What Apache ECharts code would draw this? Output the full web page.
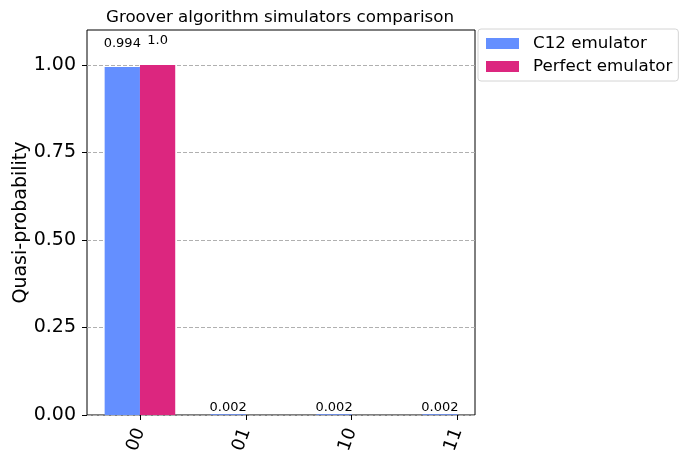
<!DOCTYPE html>
<html>
<head>
<meta charset="utf-8">
<script src="https://cdn.jsdelivr.net/npm/echarts@6/dist/echarts.min.js"></script>
<style>
  html, body { margin: 0; padding: 0; background: #fff; }
  #chart { width: 688px; height: 464px; }
</style>
</head>
<body>
<div id="chart"></div>
<script>
// 数据
var states = ['00', '01', '10', '11']
var c12Values = [0.994, 0.002, 0.002, 0.002]
var perfectValues = [1.0, null, null, null]
var yTicks = [0, 0.25, 0.5, 0.75, 1.0]

var font = 'DejaVu Sans'
var plotTop = 30
var plotHeight = 385
var yMax = 1.1

// 标签放在 1.05 * 高度 处（和 matplotlib 一样）
function withLabel (values) {
  return values.map(function (v) {
    if (v === null) return v
    return { value: v, label: { distance: 0.05 * v * plotHeight / yMax } }
  })
}

function fmt (v) {
  return Number.isInteger(v) ? v.toFixed(1) : String(v)
}

var chart = echarts.init(document.getElementById('chart'))
chart.setOption({
  animation: false,
  textStyle: { fontFamily: font },
  title: {
    text: 'Groover algorithm simulators comparison',
    left: 275,
    top: 4,
    textAlign: 'center',
    textStyle: { fontFamily: font, fontSize: 16.7, fontWeight: 'normal', color: '#000' }
  },
  legend: {
    orient: 'vertical',
    left: 478,
    top: 29,
    icon: 'rect',
    itemWidth: 33,
    itemHeight: 11,
    itemGap: 6,
    padding: [6, 6, 6, 8],
    borderColor: '#d4d4d4',
    borderWidth: 1,
    borderRadius: 3,
    backgroundColor: '#fff',
    textStyle: { fontFamily: font, fontSize: 16.7, color: '#000', lineHeight: 17, padding: [0, 0, 0, 9] },
    data: ['C12 emulator', 'Perfect emulator']
  },
  grid: [
    // 外框和网格线
    { left: 87, top: plotTop, width: 388, height: plotHeight, show: true, borderColor: '#000', borderWidth: 1, backgroundColor: 'transparent' },
    // 柱子
    { left: 87, top: plotTop, width: 423.5, height: plotHeight }
  ],
  xAxis: [
    { gridIndex: 0, type: 'value', min: 0, max: 1, show: false },
    {
      gridIndex: 1,
      type: 'category',
      data: states,
      axisLine: { show: false },
      axisTick: { show: true, alignWithLabel: true, length: 5, lineStyle: { color: '#000' } },
      axisLabel: { rotate: 70, fontSize: 18, color: '#000', fontFamily: font, margin: 14, padding: [10, 0, 0, 0] }
    }
  ],
  yAxis: [
    {
      gridIndex: 0,
      type: 'value',
      min: 0,
      max: yMax,
      name: 'Quasi-probability',
      nameLocation: 'middle',
      nameGap: 56,
      nameMoveOverlap: false,
      nameTextStyle: { fontFamily: font, fontSize: 19, color: '#000' },
      axisLine: { show: false },
      axisTick: { show: true, length: 5, customValues: yTicks, lineStyle: { color: '#000' } },
      axisLabel: {
        customValues: yTicks,
        fontSize: 19,
        color: '#000',
        fontFamily: font,
        margin: 11,
        formatter: function (v) { return v.toFixed(2) }
      },
      splitLine: { show: true, lineStyle: { color: '#b0b0b0', type: [4, 2], width: 1 } }
    },
    { gridIndex: 1, type: 'value', min: 0, max: yMax, show: false }
  ],
  series: [
    {
      name: 'C12 emulator',
      type: 'bar',
      xAxisIndex: 1,
      yAxisIndex: 1,
      barWidth: '33.33%',
      barGap: '0%',
      itemStyle: { color: '#648fff' },
      label: { show: true, position: 'top', fontSize: 13, color: '#000', fontFamily: font, formatter: function (p) { return fmt(p.value) } },
      data: withLabel(c12Values)
    },
    {
      name: 'Perfect emulator',
      type: 'bar',
      xAxisIndex: 1,
      yAxisIndex: 1,
      barWidth: '33.33%',
      barGap: '0%',
      itemStyle: { color: '#dc267f' },
      label: { show: true, position: 'top', fontSize: 13, color: '#000', fontFamily: font, formatter: function (p) { return fmt(p.value) } },
      data: withLabel(perfectValues)
    }
  ]
})
</script>
</body>
</html>
